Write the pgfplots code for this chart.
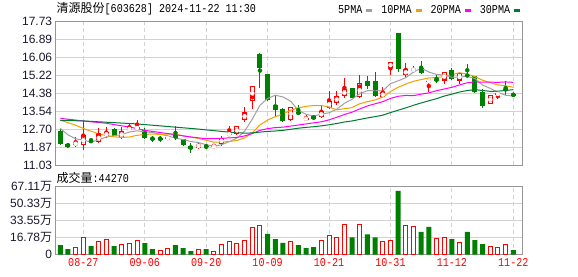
\documentclass[border=0pt]{standalone}
\usepackage{pgfplots}
\pgfplotsset{compat=1.18}
\usepackage{pgfplotstable}
\usepackage{fontspec}
\setmainfont{Liberation Sans}
\newfontfamily\cjk{Noto Sans CJK SC}
\newfontfamily\mono[FakeStretch=0.84]{Liberation Mono}

\definecolor{kred}{RGB}{255,0,0}
\definecolor{kgreen}{RGB}{0,128,0}
\definecolor{mafive}{RGB}{160,160,160}
\definecolor{maten}{RGB}{240,160,0}
\definecolor{matwenty}{RGB}{255,0,255}
\definecolor{mathirty}{RGB}{0,122,51}
\definecolor{gridc}{RGB}{210,210,210}
\definecolor{framec}{RGB}{150,150,150}
\definecolor{tickc}{RGB}{25,25,45}

% candles, close >= open (hollow red)
\pgfplotstableread{
i o h l c
2 11.98 12.33 11.88 12.09
3 11.96 13.10 11.73 12.43
5 12.10 12.79 12.08 12.52
6 12.38 12.80 12.32 12.57
8 12.29 12.82 12.28 12.65
9 12.68 12.96 12.66 12.77
10 12.76 13.14 12.72 12.78
14 12.24 12.39 12.22 12.37
18 11.86 12.10 11.80 12.00
20 11.89 12.02 11.86 11.93
21 12.02 12.40 11.95 12.32
22 12.47 12.86 12.46 12.49
23 12.47 12.87 12.45 12.85
24 13.14 13.73 13.05 13.50
25 14.05 14.75 13.66 14.73
30 13.14 13.76 13.11 13.73
32 13.20 13.36 13.11 13.21
34 13.27 13.84 13.22 13.55
35 13.72 14.48 13.64 14.03
36 13.95 14.50 13.86 14.25
37 14.26 15.09 14.19 14.57
39 14.20 15.24 14.17 14.85
42 14.20 14.70 14.15 14.45
43 15.55 15.86 15.24 15.86
45 15.23 15.79 15.17 15.51
46 15.43 15.66 15.32 15.54
48 14.95 14.99 14.47 14.97
50 14.96 15.37 14.81 15.37
52 14.98 15.32 14.82 15.32
56 13.87 14.31 13.87 14.31
57 14.35 14.38 14.14 14.37
}\upk

% candles, close < open (filled green)
\pgfplotstableread{
i o h l c
0 12.64 12.72 11.98 12.03
1 12.02 12.09 11.84 11.90
4 12.17 12.30 12.10 12.14
7 12.74 12.79 12.40 12.41
11 12.69 12.75 12.27 12.32
12 12.29 12.41 12.13 12.26
13 12.29 12.40 12.12 12.27
15 12.44 12.86 12.22 12.30
16 12.24 12.28 11.94 11.96
17 11.93 12.08 11.62 11.80
19 11.93 12.01 11.78 11.91
26 16.22 16.25 14.65 15.59
27 15.29 15.30 14.05 14.08
28 13.83 14.26 13.30 13.61
29 13.66 13.72 13.03 13.10
31 13.53 13.84 13.38 13.41
33 13.31 13.34 13.18 13.20
38 14.62 14.64 14.15 14.15
40 14.98 15.19 14.57 14.75
41 14.96 15.40 14.23 14.28
44 17.20 17.22 15.40 15.52
47 15.55 15.90 15.27 15.35
49 15.07 15.25 14.88 14.96
51 15.48 15.59 15.01 15.07
53 15.26 15.76 15.17 15.18
54 15.20 15.20 14.42 14.47
55 14.45 14.57 13.72 13.80
58 14.59 14.96 14.31 14.55
59 14.36 14.37 14.27 14.28
}\downk

% moving averages
\pgfplotstableread{
i ma5 ma10 ma20 ma30
0 12.75 13.14 13.22 13.13
1 12.45 13.02 13.18 13.12
2 12.27 12.90 13.14 13.11
3 12.20 12.75 13.10 13.10
4 12.12 12.62 13.06 13.08
5 12.22 12.50 13.03 13.06
6 12.35 12.42 12.99 13.04
7 12.41 12.36 12.93 13.02
8 12.46 12.33 12.87 13.00
9 12.58 12.35 12.82 12.98
10 12.64 12.43 12.74 12.96
11 12.59 12.47 12.66 12.93
12 12.56 12.49 12.61 12.90
13 12.48 12.47 12.56 12.87
14 12.40 12.49 12.51 12.84
15 12.30 12.47 12.46 12.81
16 12.23 12.41 12.40 12.78
17 12.14 12.35 12.35 12.75
18 12.09 12.28 12.31 12.72
19 11.99 12.20 12.27 12.68
20 11.92 12.11 12.27 12.65
21 11.99 12.11 12.29 12.61
22 12.13 12.14 12.31 12.58
23 12.30 12.19 12.33 12.55
24 12.62 12.31 12.40 12.53
25 13.18 12.55 12.51 12.54
26 13.83 12.91 12.66 12.58
27 14.15 13.14 12.74 12.61
28 14.30 13.30 12.79 12.63
29 14.22 13.42 12.81 12.66
30 14.02 13.60 12.86 12.71
31 13.59 13.71 12.91 12.76
32 13.41 13.78 12.96 12.80
33 13.33 13.82 13.01 12.83
34 13.42 13.82 13.06 12.87
35 13.48 13.75 13.15 12.92
36 13.65 13.62 13.27 12.98
37 13.92 13.67 13.40 13.05
38 14.11 13.72 13.51 13.10
39 14.37 13.90 13.66 13.17
40 14.51 14.00 13.80 13.24
41 14.52 14.08 13.90 13.30
42 14.50 14.21 14.00 13.37
43 14.84 14.47 14.15 13.49
44 14.97 14.67 14.25 13.60
45 15.12 14.82 14.29 13.71
46 15.38 14.95 14.28 13.83
47 15.56 15.03 14.35 13.94
48 15.38 15.11 14.41 14.04
49 15.27 15.12 14.51 14.14
50 15.24 15.18 14.59 14.26
51 15.14 15.26 14.67 14.35
52 15.14 15.35 14.78 14.45
53 15.18 15.28 14.88 14.52
54 15.08 15.17 14.92 14.56
55 14.77 15.00 14.91 14.52
56 14.62 14.88 14.91 14.48
57 14.43 14.78 14.90 14.49
58 14.30 14.74 14.92 14.52
59 14.26 14.67 14.90 14.56
}\ma

% volume (10k shares), red = up on previous close
\pgfplotstableread{
i v
2 7.4
3 17.3
5 13.2
6 15.0
8 10.0
9 11.0
10 13.9
13 4.2
14 6.1
18 5.2
20 3.2
21 10.0
22 12.9
23 11.3
24 13.9
25 26.8
26 29.0
30 12.9
34 13.9
35 18.7
36 16.8
37 30.0
39 30.0
42 12.9
43 13.9
45 29.0
46 27.2
49 15.8
50 16.8
52 11.9
56 8.4
57 7.4
58 10.0
}\volup

\pgfplotstableread{
i v
0 9.5
1 5.5
4 8.4
7 8.4
11 11.3
12 5.5
15 9.4
16 6.5
17 3.5
19 5.5
27 20.4
28 15.3
29 11.5
31 9.4
32 6.5
33 7.4
38 17.1
40 20.0
41 17.1
44 62.5
47 22.5
48 27.2
51 15.2
53 22.5
54 14.2
55 10.3
59 4.43
}\voldown

\pgfplotsset{
  kbase/.style={
    scale only axis, width=466.6pt, anchor=south west,
    xmin=-0.6, xmax=60.17,
    axis line style={framec, line width=1pt},
    xtick={3,11,19,27,35,43,51,59},
    major tick length=0pt,
    xmajorgrids, ymajorgrids,
    x grid style={gridc, line width=0.9pt, dash pattern=on 4pt off 3pt},
    y grid style={gridc, line width=0.9pt},
    yticklabel style={font=\fontsize{12}{14}\selectfont, text=tickc},
  },
  candle/.style={only marks, mark=none, forget plot,
    error bars/.cd, y dir=both, y explicit, error mark=none},
}

\begin{document}
\begin{tikzpicture}
\useasboundingbox (0,0) rectangle (578pt,276pt);

\begin{axis}[kbase, at={(55.7pt,110.7pt)}, height=143.6pt,
  ymin=11.03, ymax=17.73,
  ytick={11.03,11.8675,12.705,13.5425,14.38,15.2175,16.055,16.8925,17.73},
  yticklabels={11.03,11.87,12.70,13.54,14.38,15.22,16.06,16.89,17.73},
  xticklabels={},
  legend columns=4, legend plot pos=right,
  legend image code/.code={\fill (0pt,2.2pt) rectangle (5pt,4.5pt);},
  legend style={draw=none, fill=none, inner sep=0pt,
    at={(axis description cs:0.605,1.045)}, anchor=south west,
    font=\mono\fontsize{12}{14}\selectfont,
    nodes={inner sep=0pt, anchor=base},
    /tikz/every odd column/.append style={column sep=4pt},
    /tikz/every even column/.append style={column sep=9pt}},
]
% red candles: wick, body, hollow centre
\addplot[kred, candle, error bar style={kred, line width=1pt}]
  table[x=i, y expr={(\thisrow{h}+\thisrow{l})/2}, y error expr={(\thisrow{h}-\thisrow{l})/2}] {\upk};
\addplot[kred, candle, error bar style={kred, line width=5pt}]
  table[x=i, y expr={(\thisrow{o}+\thisrow{c})/2}, y error expr={max(abs(\thisrow{c}-\thisrow{o})/2,0.025)}] {\upk};
\addplot[white, candle, error bar style={white, line width=3pt}]
  table[x=i, y expr={(\thisrow{o}+\thisrow{c})/2}, y error expr={max(abs(\thisrow{c}-\thisrow{o})/2-0.047,0)}] {\upk};
% green candles
\addplot[kgreen, candle, error bar style={kgreen, line width=1pt}]
  table[x=i, y expr={(\thisrow{h}+\thisrow{l})/2}, y error expr={(\thisrow{h}-\thisrow{l})/2}] {\downk};
\addplot[kgreen, candle, error bar style={kgreen, line width=5pt}]
  table[x=i, y expr={(\thisrow{o}+\thisrow{c})/2}, y error expr={max(abs(\thisrow{c}-\thisrow{o})/2,0.025)}] {\downk};

\addplot[mafive, line width=1pt, mark=none] table[x=i, y=ma5] {\ma};
\addlegendentry{5PMA}
\addplot[maten, line width=1pt, mark=none] table[x=i, y=ma10] {\ma};
\addlegendentry{10PMA}
\addplot[matwenty, line width=1pt, mark=none] table[x=i, y=ma20] {\ma};
\addlegendentry{20PMA}
\addplot[mathirty, line width=1pt, mark=none] table[x=i, y=ma30] {\ma};
\addlegendentry{30PMA}
\end{axis}

\begin{axis}[kbase, at={(55.7pt,21.3pt)}, height=68.4pt,
  ymin=0, ymax=67.11,
  ytick={0,16.7775,33.555,50.3325,67.11},
  yticklabels={0,16.78{\cjk 万},33.55{\cjk 万},50.33{\cjk 万},67.11{\cjk 万}},
  xticklabels={08-27,09-06,09-20,10-09,10-21,10-31,11-12,11-22},
  xticklabel style={text=kred, font=\mono\fontsize{12}{14}\selectfont},
]
\addplot[ybar, bar width=4pt, bar shift=0pt, draw=kred, fill=white, line width=1pt]
  table[x=i, y=v] {\volup};
\addplot[ybar, bar width=5pt, bar shift=0pt, draw=none, fill=kgreen]
  table[x=i, y=v] {\voldown};
\end{axis}

\node[anchor=base west, inner sep=0pt] at (56.5pt,263pt)
  {{\cjk\fontsize{12}{14}\selectfont 清源股份}{\mono\fontsize{12}{14}\selectfont [603628] 2024-11-22 11:30}};
\node[anchor=base west, inner sep=0pt] at (56.5pt,94pt)
  {{\cjk\fontsize{12}{14}\selectfont 成交量}{\mono\fontsize{12}{14}\selectfont :44270}};
\end{tikzpicture}
\end{document}
